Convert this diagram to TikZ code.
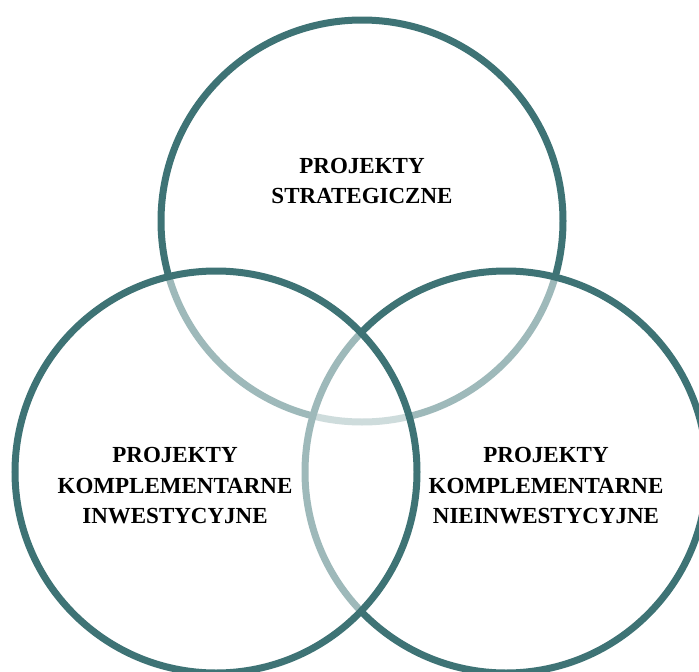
\documentclass[tikz,border=0pt]{standalone}
\usepackage{fontspec}
\setmainfont{Liberation Serif}
\definecolor{ring}{RGB}{62,115,117}
\begin{document}
\begin{tikzpicture}[x=1pt,y=-1pt,
  ring/.style={circle,draw=ring,line width=7pt,fill=white,fill opacity=0.5,
    minimum size=402pt,inner sep=0pt,outer sep=0pt},
  label/.style={align=center,font=\fontsize{23}{30.5}\selectfont\bfseries,text=black,inner sep=0pt}]
\useasboundingbox (0,0) rectangle (699,672);
\node[ring] (top) at (362,221) {};
\node[ring] (right) at (506,472) {};
\node[ring] (left) at (216,472) {};
\node[label] (ttop) at (362,181) {PROJEKTY\\STRATEGICZNE};
\node[label] (tleft) at (175,486) {PROJEKTY\\KOMPLEMENTARNE\\INWESTYCYJNE};
\node[label] (tright) at (546,486) {PROJEKTY\\KOMPLEMENTARNE\\NIEINWESTYCYJNE};
\end{tikzpicture}
\end{document}
